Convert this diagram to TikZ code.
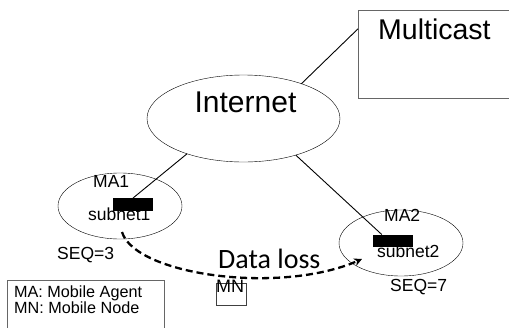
\documentclass[tikz,border=0pt]{standalone}
\usepackage{fontspec}
\setmainfont{Liberation Sans}
\newfontfamily\losefont{Carlito}
\usetikzlibrary{shapes.geometric,arrows.meta}

\newlength{\du}
\setlength{\du}{1pt}

\begin{document}
\begin{tikzpicture}[
  net/.style={draw, ellipse, inner sep=0pt, outer sep=0pt},
  agentbox/.style={fill=black, inner sep=0pt, minimum width=40\du, minimum height=12.5\du},
  frame/.style={draw=dialinegray, inner sep=0pt, outer sep=0pt, anchor=north west},
  lbl/.style={inner sep=0pt, anchor=base west, font=\fontsize{17.5}{20}\selectfont},
  link/.style={line width=0.9\du},
  lossarrow/.style={line width=2.3\du, dash pattern=on 7\du off 4\du, -{Stealth[length=8pt,width=8pt]}}
]
\pgftransformxscale{1.000000}
\pgftransformyscale{-1.000000}
\definecolor{dialinecolor}{rgb}{0.000000, 0.000000, 0.000000}
\definecolor{dialinegray}{rgb}{0.400000, 0.400000, 0.400000}
\useasboundingbox (0\du,0\du) rectangle (509\du,327\du);
\clip (0\du,0\du) rectangle (509\du,327\du);

% clouds
\node[net, minimum width=193\du, minimum height=87\du] (internet) at (243.5\du,118.5\du) {};
\node[net, minimum width=124\du, minimum height=66\du] (ma1) at (120\du,206\du) {};
\node[net, minimum width=124\du, minimum height=66\du] (ma2) at (401\du,243\du) {};

% boxes
\node[frame, minimum width=160\du, minimum height=88\du] (mcast) at (358\du,10\du) {};
\node[frame, minimum width=157\du, minimum height=60\du] (legend) at (7\du,280\du) {};
\node[frame, draw=dialinecolor!75, minimum width=30\du, minimum height=22\du] (mnbox) at (216\du,283\du) {};
\node[agentbox] (blk1) at (133\du,204.5\du) {};
\node[agentbox] (blk2) at (393\du,241\du) {};

% setfont left to latex
\node[inner sep=0pt, anchor=base, font=\fontsize{30}{36}\selectfont] (inettxt) at (245.5\du,112\du) {Internet};
\node[inner sep=0pt, anchor=base west, font=\fontsize{28.5}{34}\selectfont] (mctxt) at (378\du,39\du) {Multicast};
\node[lbl] (ma1txt) at (93\du,187\du) {MA1};
\node[lbl] (sub1txt) at (88\du,220\du) {subnet1};
\node[lbl] (seq1txt) at (57\du,259\du) {SEQ=3};
\node[lbl] (ma2txt) at (384\du,221\du) {MA2};
\node[lbl] (sub2txt) at (377\du,257\du) {subnet2};
\node[lbl] (seq2txt) at (390\du,291\du) {SEQ=7};
\node[inner sep=0pt, anchor=base west, font=\losefont\fontsize{28}{34}\selectfont] (losstxt) at (218\du,268\du) {Data loss};
\node[lbl, font=\fontsize{16.2}{19}\selectfont] (key1) at (14\du,297\du) {MA: Mobile Agent};
\node[lbl, font=\fontsize{16.2}{19}\selectfont] (key2) at (14\du,313\du) {MN: Mobile Node};
\node[lbl, font=\fontsize{18}{20}\selectfont] (mntxt) at (216\du,292\du) {MN};

% links
\draw[link] (internet.31) -- (mcast.west |- mctxt.center);
\draw[link] (internet.212) -- (blk1.north);
\draw[link] (internet.325) -- ([xshift=9\du]blk2.north west);

% handover
\coordinate (lossfrom) at (122\du,232\du);
\coordinate (lossto) at (362\du,259\du);
\draw[lossarrow] (lossfrom) .. controls (135\du,275\du) and (280\du,295\du) .. (lossto);
\end{tikzpicture}
\end{document}
